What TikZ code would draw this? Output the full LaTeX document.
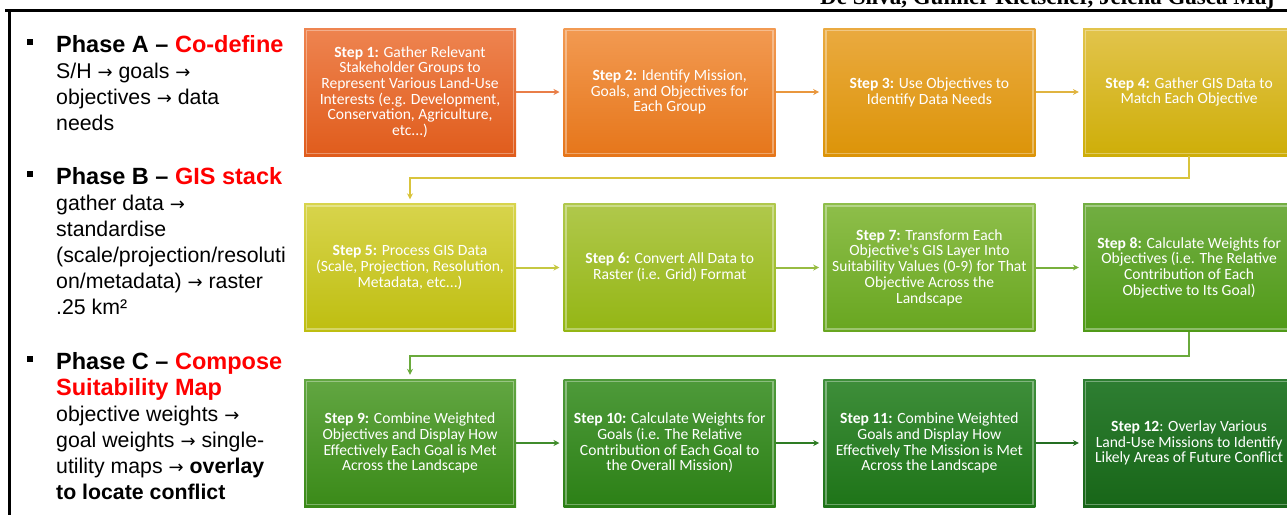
\documentclass[tikz,border=0pt]{standalone}
\usepackage{fontspec}
\setmainfont{Liberation Sans}
\newfontfamily\stepfont{Carlito}
\newfontfamily\headfont{Liberation Serif}
\newfontfamily\arrowfont{DejaVu Sans}
\usepackage{xcolor}
\usepackage{tikz}
\usetikzlibrary{arrows.meta}
\definecolor{st1}{HTML}{EE8450}\definecolor{sb1}{HTML}{E05C1C}
\definecolor{st2}{HTML}{F29A52}\definecolor{sb2}{HTML}{E6761A}
\definecolor{st3}{HTML}{EAAA40}\definecolor{sb3}{HTML}{DC9408}
\definecolor{st4}{HTML}{E2C44C}\definecolor{sb4}{HTML}{CEAE08}
\definecolor{st5}{HTML}{D8D44C}\definecolor{sb5}{HTML}{BEBE10}
\definecolor{st6}{HTML}{B0C84C}\definecolor{sb6}{HTML}{94B614}
\definecolor{st7}{HTML}{8EBE4A}\definecolor{sb7}{HTML}{68A620}
\definecolor{st8}{HTML}{72AE42}\definecolor{sb8}{HTML}{509A18}
\definecolor{st9}{HTML}{62A642}\definecolor{sb9}{HTML}{3A8A18}
\definecolor{st10}{HTML}{4E9A3A}\definecolor{sb10}{HTML}{2C8016}
\definecolor{st11}{HTML}{3E8E3A}\definecolor{sb11}{HTML}{1E7418}
\definecolor{st12}{HTML}{2E7E32}\definecolor{sb12}{HTML}{186618}
\definecolor{ar1}{HTML}{E97E48}\definecolor{ar2}{HTML}{E9973E}
\definecolor{ar3}{HTML}{E0B440}\definecolor{ar5}{HTML}{C6C842}
\definecolor{ar6}{HTML}{98BC42}\definecolor{ar7}{HTML}{78B03C}
\definecolor{ar9}{HTML}{408C2C}\definecolor{ar10}{HTML}{2E7C24}
\definecolor{ar11}{HTML}{246E22}
\definecolor{turnA}{HTML}{D9C43C}\definecolor{turnB}{HTML}{6AAA3C}
\newcommand\phasefont{\bfseries\fontsize{23.5}{26}\selectfont}
\newcommand\ra{{\arrowfont\fontsize{18}{26}\selectfont →}}
\tikzset{%
  step box/.style={
    rectangle,
    minimum width=212pt,
    minimum height=128pt,
    inner sep=2pt,
    text=white,
    align=center,
    font=\stepfont\fontsize{15.6}{15.7}\selectfont,
    path picture={\draw[white,opacity=.35,line width=1.5pt]
      ([shift={(2.5pt,-2.5pt)}]path picture bounding box.north west) rectangle
      ([shift={(-2.5pt,2.5pt)}]path picture bounding box.south east);}
  },
  flow arrow/.style={
    line width=2pt,
    -{Stealth[length=6pt,width=6pt]},
    shorten >=4pt
  },
  phase text/.style={
    anchor=north west,
    inner sep=0pt,
    align=left,
    font=\fontsize{21.3}{26}\selectfont
  },
  bullet mark/.style={
    fill=black,
    minimum size=6pt,
    inner sep=0pt
  },
}

\begin{document}
\begin{tikzpicture}[x=1pt,y=-1pt]
\useasboundingbox (0,0) rectangle (1287,515);
\clip (0,0) rectangle (1287,515);
% running head and frame
\node[anchor=base west, inner sep=0pt, font=\headfont\bfseries\fontsize{23}{23}\selectfont] (head) at (820,4) {De Silva, Gunner Kletscher, Jelena Gasca Maj};
\draw[line width=3pt] (5,10) -- (1287,10);
\draw[line width=2.5pt] (9.5,10) -- (9.5,515);
% phases
\node[bullet mark] (bA) at (30,42) {};
\node[phase text] (pA) at (56,35) {{\phasefont Phase A – \textcolor{red}{Co-define}}\\
  S/H \ra{} goals \ra\\objectives \ra{} data\\needs};
\node[bullet mark] (bB) at (30,174) {};
\node[phase text] (pB) at (56,167) {{\phasefont Phase B – \textcolor{red}{GIS stack}}\\
  gather data \ra\\standardise\\(scale/projection/resoluti\\on/metadata) \ra{} raster\\.25 km²};
\node[bullet mark] (bC) at (30,359) {};
\node[phase text] (pC) at (56,352) {{\phasefont Phase C – \textcolor{red}{Compose}}\\
  {\phasefont\color{red}Suitability Map}\\objective weights \ra\\goal weights \ra{} single-\\
  utility maps \ra{} \textbf{overlay}\\\textbf{to locate conflict}};
% steps
\foreach \i/\txt in {
  1/{\textbf{Step 1:} Gather Relevant\\Stakeholder Groups to\\Represent Various Land-Use\\Interests (e.g. Development,\\Conservation, Agriculture,\\etc...)},
  2/{\textbf{Step 2:} Identify Mission,\\Goals, and Objectives for\\Each Group},
  3/{\textbf{Step 3:} Use Objectives to\\Identify Data Needs},
  4/{\textbf{Step 4:} Gather GIS Data to\\Match Each Objective},
  5/{\textbf{Step 5:} Process GIS Data\\(Scale, Projection, Resolution,\\Metadata, etc...)},
  6/{\textbf{Step 6:} Convert All Data to\\Raster (i.e. Grid) Format},
  7/{\textbf{Step 7:} Transform Each\\Objective's GIS Layer Into\\Suitability Values (0-9) for That\\Objective Across the\\Landscape},
  8/{\textbf{Step 8:} Calculate Weights for\\Objectives (i.e. The Relative\\Contribution of Each\\Objective to Its Goal)},
  9/{\textbf{Step 9:} Combine Weighted\\Objectives and Display How\\Effectively Each Goal is Met\\Across the Landscape},
  10/{\textbf{Step 10:} Calculate Weights for\\Goals (i.e. The Relative\\Contribution of Each Goal to\\the Overall Mission)},
  11/{\textbf{Step 11:} Combine Weighted\\Goals and Display How\\Effectively The Mission is Met\\Across the Landscape},
  12/{\textbf{Step 12}: Overlay Various\\Land-Use Missions to Identify\\Likely Areas of Future Conflict}} {
    \node[step box, top color=st\i, bottom color=sb\i] (s\i)
      at ({410+259.7*mod(\i-1,4)},{92+175.5*int((\i-1)/4)}) {\txt};
}
\foreach \a/\b in {1/2,2/3,3/4,5/6,6/7,7/8,9/10,10/11,11/12} {
    \draw[flow arrow, draw=ar\a] (s\a) -- (s\b);
}
\draw[flow arrow, draw=turnA] (s4.south) -- ++(0,22) -| (s5);
\draw[flow arrow, draw=turnB] (s8.south) -- ++(0,24) -| (s9);
\end{tikzpicture}
\end{document}
